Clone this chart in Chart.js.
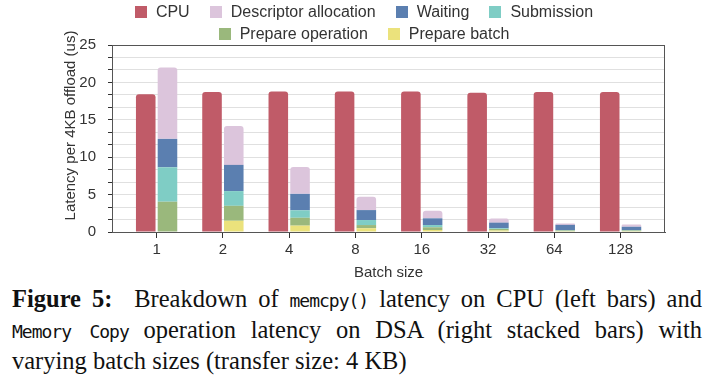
<!DOCTYPE html>
<html>
<head>
<meta charset="utf-8">
<script src="https://cdn.jsdelivr.net/npm/chart.js@4.4.1/dist/chart.umd.min.js"></script>
<style>
  body { margin: 0; background: #fff; }
  #wrap { position: relative; width: 728px; height: 377px; overflow: hidden; }
  #chartBox { position: absolute; left: 0; top: 0; width: 728px; height: 282px; }
  .legend { position: absolute; left: 0; width: 728px; font: 16px "Liberation Sans", Arial, sans-serif; color: #333; }
  .row { position: absolute; left: 0; width: 728px; display: flex; justify-content: center; }
  .item { display: flex; align-items: center; margin: 0 10px; }
  .box { width: 12px; height: 12px; margin-right: 9px; }
  .caption { position: absolute; left: 12px; width: 690px; top: 283px; font: 24.5px "Liberation Serif", "Times New Roman", serif; color: #111; }
  .caption div { white-space: nowrap; height: 31px; line-height: 31px; }
  .caption .just { text-align: justify; text-align-last: justify; white-space: normal; }
  .caption code { font-family: "DejaVu Sans Mono", monospace; font-size: 18px; letter-spacing: -1px; line-height: 1; }
</style>
</head>
<body>
<div id="wrap">
  <div id="chartBox"><canvas id="myChart"></canvas></div>
  <div class="legend" id="legend"></div>
  <div class="caption">
    <div class="just"><b>Figure 5:</b>&nbsp; Breakdown of <code>memcpy()</code> latency on CPU (left bars) and</div>
    <div class="just"><code>Memory Copy</code> operation latency on DSA (right stacked bars) with</div>
    <div>varying batch sizes (transfer size: 4 KB)</div>
  </div>
</div>
<script>
const batchSizes = ["1", "2", "4", "8", "16", "32", "64", "128"];
const cpu = [18.4, 18.7, 18.8, 18.8, 18.8, 18.6, 18.7, 18.7];
const prepareBatch = [0, 1.5, 0.85, 0.5, 0.27, 0.2, 0.1, 0.1];
const prepareOperation = [4.05, 2.0, 1.05, 0.43, 0.36, 0.2, 0.1, 0.1];
const submission = [4.6, 1.97, 1.0, 0.67, 0.3, 0.1, 0.05, 0.05];
const waiting = [3.8, 3.5, 2.2, 1.33, 0.9, 0.75, 0.7, 0.45];
const descriptorAllocation = [9.55, 5.2, 3.6, 1.77, 1.0, 0.57, 0.2, 0.3];
const yLabels = [0, 5, 10, 15, 20, 25];
const yMinorPerMajor = 3;
const yTitle = "Latency per 4KB offload (us)";

const legendRows = [
  ["CPU", "Descriptor allocation", "Waiting", "Submission"],
  ["Prepare operation", "Prepare batch"],
];

const colors = {
  "CPU": "#c05b68",
  "Descriptor allocation": "#dcc5dc",
  "Waiting": "#5b7fb0",
  "Submission": "#7fcdc5",
  "Prepare operation": "#9ab87c",
  "Prepare batch": "#ebe27c",
};

function pts(arr) {
  return arr.map((v, i) => ({ x: i, y: v }));
}

function ds(label, values, stack) {
  return {
    label: label,
    data: pts(values),
    stack: stack,
    backgroundColor: colors[label],
    borderWidth: 0,
    borderRadius: 3,
    borderSkipped: "start",
  };
}

// stacked bottom -> top
const datasets = [
  ds("CPU", cpu, "cpu"),
  ds("Prepare batch", prepareBatch, "dsa"),
  ds("Prepare operation", prepareOperation, "dsa"),
  ds("Submission", submission, "dsa"),
  ds("Waiting", waiting, "dsa"),
  ds("Descriptor allocation", descriptorAllocation, "dsa"),
];

// html legend
const $legend = document.getElementById("legend");
legendRows.forEach((row, r) => {
  const div = document.createElement("div");
  div.className = "row";
  div.style.top = (r === 0 ? 3 : 25) + "px";
  row.forEach((name) => {
    const item = document.createElement("div");
    item.className = "item";
    item.innerHTML = `<span class="box" style="background:${colors[name]}"></span><span>${name}</span>`;
    div.appendChild(item);
  });
  $legend.appendChild(div);
});

const font = { family: "'Liberation Sans', Arial, sans-serif", size: 15 };

// plot frame + y title (the title sits a bit above the plot's middle)
const frame = {
  id: "frame",
  afterDraw(chart) {
    const { ctx, chartArea: a } = chart;
    ctx.save();
    ctx.strokeStyle = "#555";
    ctx.lineWidth = 1;
    ctx.strokeRect(a.left + 0.5, a.top + 0.5, a.right - a.left - 1, a.bottom - a.top);
    ctx.translate(71, (a.top + a.bottom) / 2 - 13);
    ctx.rotate(-Math.PI / 2);
    ctx.fillStyle = "#333";
    ctx.font = `${font.size}px ${font.family}`;
    ctx.textAlign = "center";
    ctx.textBaseline = "middle";
    ctx.fillText(yTitle, 0, 0);
    ctx.restore();
  },
};

const yMax = yLabels[yLabels.length - 1];
const yStep = (yLabels[1] - yLabels[0]) / yMinorPerMajor;

new Chart(document.getElementById("myChart"), {
  type: "bar",
  data: { datasets: datasets },
  options: {
    responsive: true,
    maintainAspectRatio: false,
    animation: false,
    layout: { padding: { left: 0, right: 63, top: 45, bottom: 0 } },
    plugins: { legend: { display: false }, tooltip: { enabled: false } },
    datasets: { bar: { categoryPercentage: 0.656, barPercentage: 0.9 } },
    scales: {
      x: {
        type: "linear",
        offset: false,
        min: -0.673,
        max: 7.67,
        afterBuildTicks: (s) => {
          s.ticks = batchSizes.map((b, i) => ({ value: i }));
        },
        afterFit: (s) => {
          s.height = 50;
        },
        ticks: {
          color: "#333",
          font: font,
          padding: 3,
          autoSkip: false,
          maxRotation: 0,
          callback: (v) => batchSizes[v],
        },
        grid: { offset: false, drawOnChartArea: false, drawTicks: true, tickLength: 6, tickColor: "#333" },
        border: { color: "#555" },
        title: { display: true, text: "Batch size", color: "#333", font: font, padding: 0 },
      },
      y: {
        min: 0,
        max: yMax,
        afterBuildTicks: (s) => {
          const t = [];
          for (let i = 0; i <= (yLabels.length - 1) * yMinorPerMajor; i++) t.push({ value: i * yStep });
          s.ticks = t;
        },
        afterFit: (s) => {
          s.width = 112;
        },
        ticks: {
          color: "#333",
          font: font,
          padding: 12,
          autoSkip: false,
          callback: (v, i) => (i % yMinorPerMajor === 0 ? yLabels[i / yMinorPerMajor] : ""),
        },
        grid: { color: "#e0e0e0", tickLength: 4, tickColor: "#333" },
        border: { color: "#555" },
        title: { display: false },
      },
    },
  },
  plugins: [frame],
});
</script>
</body>
</html>
